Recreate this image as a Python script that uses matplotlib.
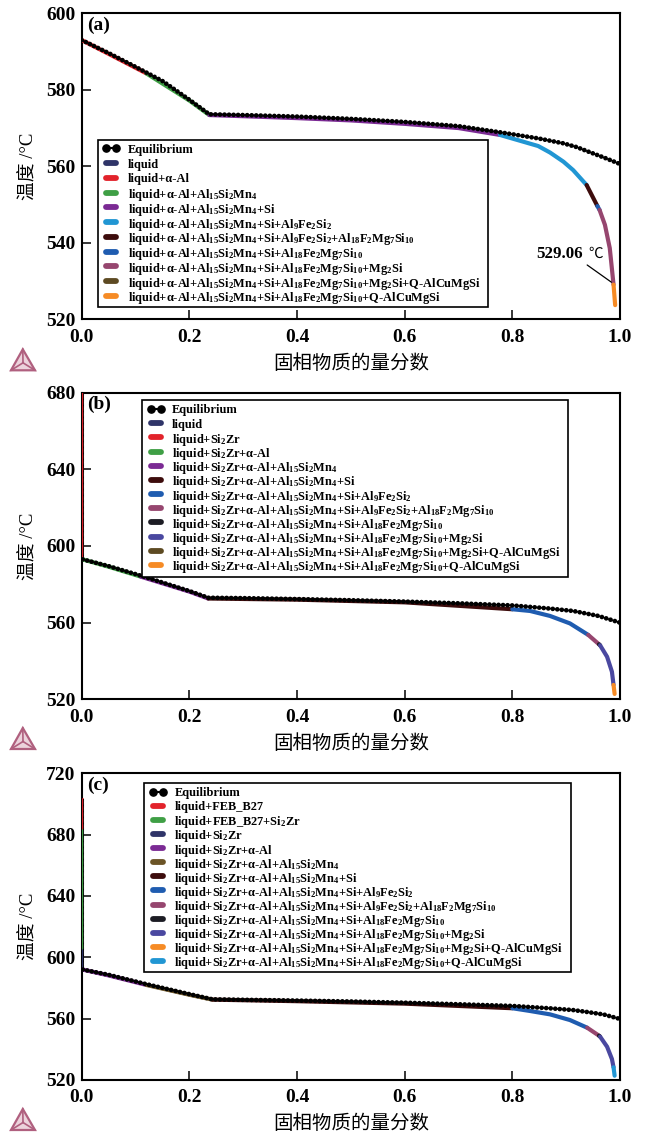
import matplotlib
matplotlib.use("Agg")
import matplotlib.pyplot as plt
from matplotlib.lines import Line2D
from matplotlib.patches import Polygon, Rectangle

plt.rcParams['font.family'] = ['Liberation Serif', 'Noto Sans CJK SC']
plt.rcParams['font.weight'] = 'bold'
plt.rcParams['mathtext.fontset'] = 'custom'
plt.rcParams['mathtext.rm'] = 'Liberation Serif:bold'
plt.rcParams['mathtext.it'] = 'Liberation Serif:bold'
plt.rcParams['mathtext.bf'] = 'Liberation Serif:bold'
plt.rcParams['mathtext.default'] = 'rm'

W, H = 646, 1133
AL15 = "Al$_{15}$Si$_{2}$Mn$_{4}$"
AL9 = "Al$_{9}$Fe$_{2}$Si$_{2}$"
AL18F = "Al$_{18}$F$_{2}$Mg$_{7}$Si$_{10}$"
AL18 = "Al$_{18}$Fe$_{2}$Mg$_{7}$Si$_{10}$"
MG = "Mg$_{2}$Si"
SZ = "Si$_{2}$Zr"

# ---------- panel (a) ----------
eq_fs_a = [0, 0, .05, .1, .15, .2, .237, .3, .4, .5, .6, .7, .777, .848, .895, .92, .94, .97, 1.0]
eq_T_a = [593, 593, 589.6, 586, 582.3, 577.4, 573.6, 573.4, 573, 572.4, 571.6, 570.5, 568.9, 567.3, 566, 565, 563.9, 562.3, 560.6]
fs_a = [0, .05, .12, .2, .237, .3, .4, .5, .6, .7, .777, .848, .87, .895, .913, .938, .958, .962, .972, .981, .988, .991]
T_a = [593, 589.4, 584.3, 577.2, 573.4, 573.1, 572.6, 572, 571.1, 570, 568.2, 565.3, 563.6, 561.2, 559, 555.1, 549.6, 548.6, 544.7, 538.6, 529.06, 523.7]
brk_a = [(0, 0), (0, 2), (2, 4), (4, 10), (10, 15), (15, 16), (16, 17), (17, 20), (20, 20), (20, 21)]
lab_a = ["liquid", "liquid+α-Al", f"liquid+α-Al+{AL15}", f"liquid+α-Al+{AL15}+Si",
         f"liquid+α-Al+{AL15}+Si+{AL9}", f"liquid+α-Al+{AL15}+Si+{AL9}+{AL18F}",
         f"liquid+α-Al+{AL15}+Si+{AL18}", f"liquid+α-Al+{AL15}+Si+{AL18}+{MG}",
         f"liquid+α-Al+{AL15}+Si+{AL18}+{MG}+Q-AlCuMgSi", f"liquid+α-Al+{AL15}+Si+{AL18}+Q-AlCuMgSi"]
col_a = ['#2f3468', '#e2232b', '#3f9f45', '#7b2a94', '#2196d3', '#3d0c0c', '#1f5cb0', '#96466f', '#5d4a22', '#f68b25']

# ---------- panel (b) ----------
eq_fs_b = [.002, .002, .05, .11, .2, .235, .3, .4, .5, .6, .7, .8, .868, .913, .96, 1.0]
eq_T_b = [680, 593, 589.5, 584.5, 576.5, 573, 572.8, 572.3, 571.7, 571, 570.1, 569, 567.4, 566.1, 563.5, 560]
fs_b = [.002, .002, .05, .11, .2, .235, .4, .6, .8, .833, .870, .907, .941, .961, .963, .976, .985, .988, .990]
T_b = [680, 593, 589.2, 584, 576.2, 572.6, 572, 570.6, 567, 566.1, 563.5, 559.6, 553.6, 548.7, 548.2, 542.2, 534.4, 527.5, 522.8]
brk_b = [(0, 0), (0, 1), (1, 3), (3, 5), (5, 8), (8, 12), (12, 13), (13, 14), (14, 17), (17, 17), (17, 18)]
lab_b = ["liquid", f"liquid+{SZ}", f"liquid+{SZ}+α-Al", f"liquid+{SZ}+α-Al+{AL15}",
         f"liquid+{SZ}+α-Al+{AL15}+Si", f"liquid+{SZ}+α-Al+{AL15}+Si+{AL9}",
         f"liquid+{SZ}+α-Al+{AL15}+Si+{AL9}+{AL18F}", f"liquid+{SZ}+α-Al+{AL15}+Si+{AL18}",
         f"liquid+{SZ}+α-Al+{AL15}+Si+{AL18}+{MG}", f"liquid+{SZ}+α-Al+{AL15}+Si+{AL18}+{MG}+Q-AlCuMgSi",
         f"liquid+{SZ}+α-Al+{AL15}+Si+{AL18}+Q-AlCuMgSi"]
col_b = ['#2f3468', '#e2232b', '#3f9f45', '#7b2a94', '#3d0c0c', '#1f5cb0', '#96466f', '#1c1c24', '#4a48a0', '#5d4a22', '#f68b25']

# ---------- panel (c) ----------
eq_fs_c = [.002, .002, .05, .12, .2, .243, .3, .4, .5, .6, .7, .8, .868, .913, .94, .97, 1.0]
eq_T_c = [703, 592, 588.6, 582.5, 576, 572.6, 572.3, 571.8, 571.2, 570.4, 569.4, 568.3, 566.8, 565.6, 564.3, 562.7, 559.8]
fs_c = [.002, .002, .002, .002, .05, .12, .2, .243, .4, .6, .8, .833, .870, .907, .939, .961, .963, .976, .985, .988, .990]
T_c = [703, 683, 605, 592, 588.2, 582, 575.6, 572.4, 571.4, 569.8, 566.8, 565, 562.8, 559.1, 554.1, 548.9, 548.3, 541.7, 533.7, 528.3, 522.8]
brk_c = [(0, 1), (1, 2), (2, 3), (3, 5), (5, 7), (7, 10), (10, 14), (14, 15), (15, 16), (16, 19), (19, 19), (19, 20)]
lab_c = ["liquid+FEB_B27", f"liquid+FEB_B27+{SZ}", f"liquid+{SZ}", f"liquid+{SZ}+α-Al",
         f"liquid+{SZ}+α-Al+{AL15}", f"liquid+{SZ}+α-Al+{AL15}+Si", f"liquid+{SZ}+α-Al+{AL15}+Si+{AL9}",
         f"liquid+{SZ}+α-Al+{AL15}+Si+{AL9}+{AL18F}", f"liquid+{SZ}+α-Al+{AL15}+Si+{AL18}",
         f"liquid+{SZ}+α-Al+{AL15}+Si+{AL18}+{MG}", f"liquid+{SZ}+α-Al+{AL15}+Si+{AL18}+{MG}+Q-AlCuMgSi",
         f"liquid+{SZ}+α-Al+{AL15}+Si+{AL18}+Q-AlCuMgSi"]
col_c = ['#e2232b', '#3f9f45', '#2f3468', '#7b2a94', '#6b5426', '#3d0c0c', '#1f5cb0', '#96466f', '#1c1c24', '#4a48a0', '#f68b25', '#2196d3']

panels = [
    dict(tag='(a)', box=(81.7, 13.3, 620, 319.3), ylim=(520, 600), yt=[520, 540, 560, 580, 600],
         eq=(eq_fs_a, eq_T_a), cur=(fs_a, T_a), brk=brk_a, lab=lab_a, col=col_a,
         frame=(97.5, 140, 488, 307), hx=(103.5, 118.5), tx=128, row0=148.3, dy=14.77, logo=349.3),
    dict(tag='(b)', box=(81.7, 392.7, 620, 699.3), ylim=(520, 680), yt=[520, 560, 600, 640, 680],
         eq=(eq_fs_b, eq_T_b), cur=(fs_b, T_b), brk=brk_b, lab=lab_b, col=col_b,
         frame=(141.5, 400, 568, 577), hx=(148, 163.5), tx=171.6, row0=409, dy=14.18, logo=728),
    dict(tag='(c)', box=(81.7, 773.3, 620, 1080), ylim=(520, 720), yt=[520, 560, 600, 640, 680, 720],
         eq=(eq_fs_c, eq_T_c), cur=(fs_c, T_c), brk=brk_c, lab=lab_c, col=col_c,
         frame=(143.5, 782.7, 571, 972), hx=(150, 165.5), tx=174.5, row0=791.7, dy=14.1, logo=1109),
]

fig = plt.figure(figsize=(W / 100, H / 100), dpi=100)
FX = lambda x: x / W
FY = lambda y: 1 - y / H

for p in panels:
    l, t, r, b = p['box']
    ax = fig.add_axes([l / W, 1 - b / H, (r - l) / W, (b - t) / H])
    ax.set_xlim(0, 1)
    ax.set_ylim(*p['ylim'])
    for s in ax.spines.values():
        s.set_linewidth(1.5)
    ax.set_xticks([0, .2, .4, .6, .8, 1.0])
    ax.set_xticklabels(['0.0', '0.2', '0.4', '0.6', '0.8', '1.0'])
    ax.set_yticks(p['yt'])
    ax.tick_params(axis='both', direction='in', length=6.3, width=1.1, labelsize=14, pad=4.5)
    ax.tick_params(axis='x', pad=6.7)
    for tk in ax.get_xticklabels() + ax.get_yticklabels():
        tk.set_fontweight('bold')
    ax.set_xlabel('固相物质的量分数', fontsize=14, fontweight='normal', labelpad=6)
    ax.set_ylabel('温度 /°C', fontsize=13.5, fontweight='normal', labelpad=6)
    ax.text(5 / (r - l), 1 - 12 / (b - t), p['tag'], transform=ax.transAxes, fontsize=14,
            fontweight='bold', va='center', ha='left')

    ex, ey = p['eq']
    eq_style = dict(color='black', ls=(0, (0.01, 0.95)), dash_capstyle='round', zorder=5)
    ax.plot(ex[1:], ey[1:], lw=3.4, **eq_style)
    ax.plot(ex[:2], ey[:2], lw=0.9, **eq_style)
    fx, fy = p['cur']
    for (i, j), c in zip(p['brk'], p['col']):
        xs, ys = fx[i:j + 1], fy[i:j + 1]
        thin = len(set(xs)) == 1
        ax.plot(xs, ys, color=c, lw=1.4 if thin else 3.0, solid_capstyle='round', zorder=3)

    # legend box laid out by hand so that every row has the same height
    x0, y0, x1, y1 = p['frame']
    fig.add_artist(Rectangle((FX(x0), FY(y1)), (x1 - x0) / W, (y1 - y0) / H, fc='white', ec='black',
                             lw=1.2, transform=fig.transFigure, zorder=10))
    ha, hb = p['hx']
    rows = ['Equilibrium'] + p['lab']
    cols = ['black'] + p['col']
    for k, (lb, c) in enumerate(zip(rows, cols)):
        yy = p['row0'] + k * p['dy']
        if k == 0:
            h = Line2D([FX(ha + 3), FX(hb - 3)], [FY(yy)] * 2, color='black', lw=1.5, marker='o', ms=5.2,
                       transform=fig.transFigure, zorder=11)
        else:
            h = Line2D([FX(ha + 2.5), FX(hb - 2.5)], [FY(yy)] * 2, color=c, lw=4.2, solid_capstyle='round',
                       transform=fig.transFigure, zorder=11)
        fig.add_artist(h)
        fig.text(FX(p['tx']), FY(yy), lb, fontsize=8.95, fontweight='bold', va='center_baseline', ha='left', zorder=11)

    # Thermo-Calc style logo (decorative)
    ya = p['logo']
    yb = ya + 21
    pts = [(22.8, ya), (11, yb), (35, yb)]
    cen = (23, ya + 13.5)
    fig.add_artist(Polygon([(FX(x), FY(y)) for x, y in pts], closed=True, fc='#ecd3dc', ec='#b0607f',
                           lw=1.6, transform=fig.transFigure))
    for x, y in pts:
        fig.add_artist(Line2D([FX(x), FX(cen[0])], [FY(y), FY(cen[1])], color='#b0607f', lw=1.2,
                              transform=fig.transFigure))

    if p['tag'] == '(a)':
        ax.annotate('', xy=(.984, 529.7), xytext=(.939, 534.2),
                    arrowprops=dict(arrowstyle='-', color='black', lw=0.9, shrinkA=0, shrinkB=0))
        ax.text(.9307, 537.1, '529.06', fontsize=12.2, fontweight='bold', ha='right', va='center')
        ax.text(.9406, 537.1, '℃', fontsize=10.5, fontweight='normal', ha='left', va='center',
                family=['Noto Sans CJK SC', 'DejaVu Sans'])

fig.savefig('out.png', dpi=100)
